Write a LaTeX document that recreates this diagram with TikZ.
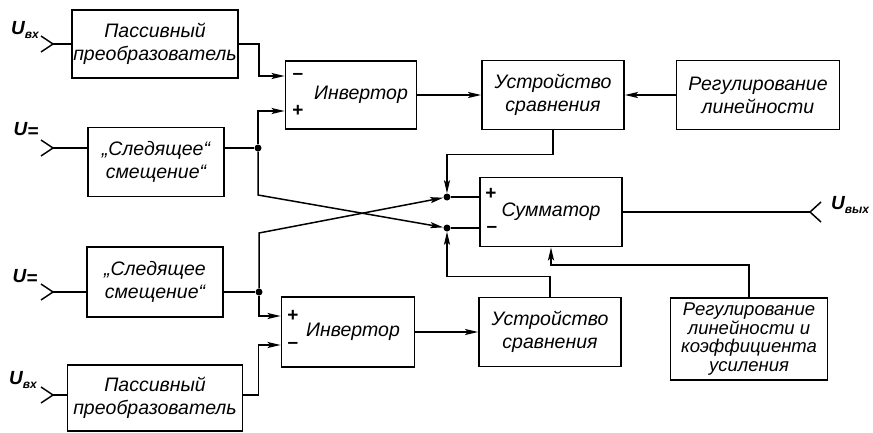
\documentclass[tikz,border=0pt]{standalone}
\usepackage{fontspec}
\setmainfont{Liberation Sans}
\usepackage{tikz}
\usetikzlibrary{arrows.meta,positioning,calc}

\begin{document}
\begin{tikzpicture}[
    x=1pt, y=-1pt,
    block/.style={rectangle, draw, line width=1.8pt, minimum height=69, align=center, font=\fontsize{19.5}{23}\selectfont\itshape, inner sep=1pt},
    arr/.style={-{Stealth[length=13pt,width=6pt,inset=2.5pt]}, line width=1.5pt},
    wire/.style={line width=1.5pt},
    dot/.style={circle, fill, inner sep=0pt, minimum size=7pt},
    sgn/.style={font=\fontsize{19}{19}\selectfont\bfseries, inner sep=0pt},
    lbl/.style={font=\fontsize{19}{19}\selectfont\bfseries\itshape, inner sep=0pt}
]
\useasboundingbox (0,0) rectangle (873,432);

% Upper channel
\node[block, minimum width=166, minimum height=68] (pas1) at (155,44) {Пассивный\\преобразователь};
\node[block, minimum width=136] (sled1) at (156,162) {„Следящее“\\смещение“};
\node[block, minimum width=131, minimum height=68] (inv1) at (351,95) {\hspace*{20pt}Инвертор};
\node[block, minimum width=142] (cmp1) at (553,95) {Устройство\\сравнения};
\node[block, minimum width=163] (reg1) at (758,95) {Регулирование\\линейности};

% Summator
\node[block, minimum width=142] (sum) at (551,212) {Сумматор};

% Lower channel
\node[block, minimum width=136, minimum height=70] (sled2) at (155,282) {„Следящее\\смещение“};
\node[block, minimum width=133, minimum height=70] (inv2) at (348,332) {\hspace*{10pt}Инвертор};
\node[block, minimum width=142] (cmp2) at (550,332) {Устройство\\сравнения};
\node[block, minimum width=157, minimum height=82, font=\fontsize{18.5}{18.5}\selectfont\itshape] (reg2) at (749,339) {Регулирование\\линейности и\\коэффициента\\усиления};
\node[block, minimum width=175, minimum height=66] (pas2) at (155,398) {Пассивный\\преобразователь};

% Signs
\node[sgn] (s1m) at (298,76) {–};
\node[sgn] (s1p) at (298,111) {+};
\node[sgn] (s2p) at (293,316) {+};
\node[sgn] (s2m) at (293,345) {–};
\node[sgn] (s3p) at (491,194) {+};
\node[sgn] (s3m) at (492,229) {–};

% Terminals
\coordinate (in1) at (53,44);
\coordinate (in2) at (53,148);
\coordinate (in3) at (53,292);
\coordinate (in4) at (53,395);
\coordinate (out) at (810,212);
\foreach \c in {in1,in2,in3,in4}
    \draw[wire] ($(\c)+(-12,-8)$) -- (\c) -- ($(\c)+(-12,8)$);
\draw[wire] ($(out)+(11,-10)$) -- (out) -- ($(out)+(11,10)$);

\node[lbl] (u1) at (25,30) {U\raisebox{-4pt}{\fontsize{12}{12}\selectfont вх}};
\node[lbl] (u2) at (26,130) {U\raisebox{-2pt}{=}};
\node[lbl] (u3) at (25,277) {U\raisebox{-2pt}{=}};
\node[lbl] (u4) at (23,380) {U\raisebox{-4pt}{\fontsize{12}{12}\selectfont вх}};
\node[lbl] (u5) at (850,205) {U\raisebox{-4pt}{\fontsize{12}{12}\selectfont вых}};

% Dots and input points
\node[dot] (d1) at (258,148) {};
\node[dot] (d2) at (259,292) {};
\node[dot] (du) at (447,197) {};
\node[dot] (dl) at (447,228) {};
\coordinate (i1m) at (inv1.west |- 0,76);
\coordinate (i1p) at (inv1.west |- 0,111);
\coordinate (i2p) at (inv2.west |- 0,316);
\coordinate (i2m) at (inv2.west |- 0,345);

% Wires
\draw[wire] (in1) -- (pas1.west);
\draw[wire] (in2) -- (in2 -| sled1.west);
\draw[wire] (in3) -- (in3 -| sled2.west);
\draw[wire] (in4) -- (in4 -| pas2.west);
\draw[arr] (pas1.east) -- ++(20,0) |- (i1m);
\draw[wire] (in2 -| sled1.east) -- (d1);
\draw[arr] (d1) |- (i1p);
\draw[arr] (d1) -- ++(0,47) -- (dl);
\draw[wire] (in3 -| sled2.east) -- (d2);
\draw[arr] (d2) |- (i2p);
\draw[arr] (d2) -- ++(0,-59) -- (du);
\draw[arr] (in4 -| pas2.east) -- ++(15,0) |- (i2m);
\draw[arr] (inv1) -- (cmp1); \draw[arr] (reg1) -- (cmp1); \draw[arr] (inv2) -- (cmp2);
\draw[arr] (cmp1.south) -- ++(0,24) -| (du);
\draw[arr] (cmp2.north) -- ++(0,-20) -| (dl);
\draw[arr] (reg2.north) -- ++(0,-32) -| (sum.south);
\draw[wire] (du) -- (du -| sum.west);
\draw[wire] (dl) -- (dl -| sum.west);
\draw[wire] (sum) -- (out);

\end{tikzpicture}
\end{document}
